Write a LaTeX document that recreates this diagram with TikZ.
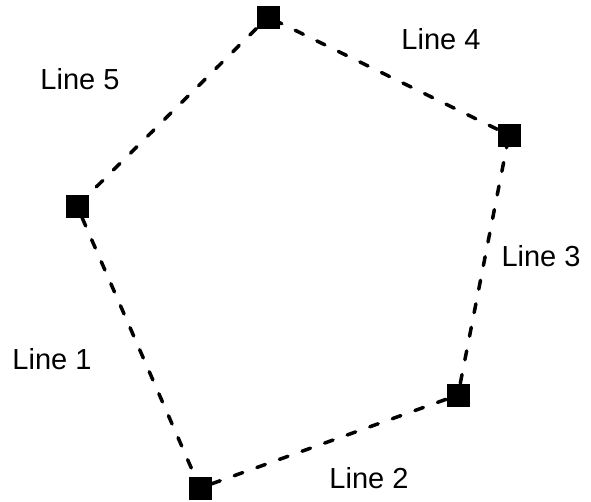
\documentclass[tikz,border=0pt]{standalone}
\usepackage{fontspec}
\setmainfont{Liberation Sans}
\usetikzlibrary{shapes}
\tikzstyle{vertex}=[rectangle,fill=black,minimum size=23pt,inner sep=0pt]
\tikzstyle{side}=[black,line width=3.5pt,line cap=round,dash pattern=on 9pt off 15pt]
\tikzstyle{tag}=[font=\fontsize{29}{32}\selectfont,inner sep=0pt]

\begin{document}
\begin{tikzpicture}[x=1pt,y=-1pt]
  \useasboundingbox (0,0) rectangle (591,501);

	\node[vertex] (v1) at (77,206) {};
	\node[vertex] (v2) at (200,488) {};
	\node[vertex] (v3) at (458,395) {};
	\node[vertex] (v4) at (509,135) {};
	\node[vertex] (v5) at (268,17) {};

  \path [side] (v1) edge (v2);
  \path [side] (v2) edge (v3);
  \path [side] (v3) edge (v4);
  \path [side] (v4) edge (v5);
  \path [side] (v5) edge (v1);

	\node[tag] (l1) at (52,359) {Line 1};
	\node[tag] (l2) at (369,478) {Line 2};
	\node[tag] (l3) at (541,256) {Line 3};
	\node[tag] (l4) at (441,39) {Line 4};
	\node[tag] (l5) at (80,79) {Line 5};

\end{tikzpicture}
\end{document}
